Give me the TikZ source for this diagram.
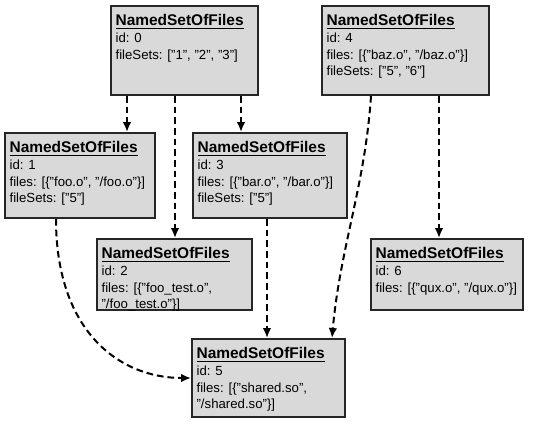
\documentclass[tikz,border=0pt]{standalone}
\usepackage{fontspec}
\setmainfont{Liberation Sans}
\usetikzlibrary{arrows.meta, calc, fit}

\newcommand{\nsftitle}{\underline{\fontsize{11.6}{14}\selectfont\textbf{NamedSetOfFiles}}\\}

\begin{document}
\begin{tikzpicture}[x=0.75pt, y=-0.75pt]
	% Setup the styles for the boxes and the dependencies
	\tikzset{set box/.style={draw=black!85, line width=1.5pt,
			fill=gray!30, inner sep=0pt},
		set text/.style={anchor=north west, align=left, inner xsep=4pt,
			inner ysep=7pt, font=\fontsize{9.9}{12.5}\selectfont},
		dep/.style={line width=1.5pt, dash pattern=on 5pt off 3pt,
			-{Latex[length=7.5pt, width=6.5pt]}}}
	
	\useasboundingbox (0,0) rectangle (539,440);
	
	% The boxes
	\node[set box, fit={(111,6) (258,95)}]   (b0) {};
	\node[set box, fit={(322,6) (489,95)}]   (b4) {};
	\node[set box, fit={(5,133) (155,218)}]  (b1) {};
	\node[set box, fit={(193,133) (347,218)}] (b3) {};
	\node[set box, fit={(97,239) (252,310)}]  (b2) {};
	\node[set box, fit={(371,239) (523,310)}] (b6) {};
	\node[set box, fit={(192,339) (345,417)}] (b5) {};
	
	% The texts
	\node[set text] (t0) at (b0.north west) {\nsftitle id: 0\\ fileSets: ["1", "2", "3"]};
	\node[set text] (t4) at (b4.north west) {\nsftitle id: 4\\ files: [\{"baz.o", "/baz.o"\}]\\ fileSets: ["5", "6"]};
	\node[set text] (t1) at (b1.north west) {\nsftitle id: 1\\ files: [\{"foo.o", "/foo.o"\}]\\ fileSets: ["5"]};
	\node[set text] (t3) at (b3.north west) {\nsftitle id: 3\\ files: [\{"bar.o", "/bar.o"\}]\\ fileSets: ["5"]};
	\node[set text] (t2) at (b2.north west) {\nsftitle id: 2\\ files: [\{"foo\_test.o",\\ "/foo\_test.o"\}]};
	\node[set text] (t6) at (b6.north west) {\nsftitle id: 6\\ files: [\{"qux.o", "/qux.o"\}]};
	\node[set text] (t5) at (b5.north west) {\nsftitle id: 5\\ files: [\{"shared.so",\\ "/shared.so"\}]};
	
	% Where the dependencies start
	\coordinate (s01) at ($(b0.south west)+(17,0)$);
	\coordinate (s02) at ($(b0.south west)+(65,0)$);
	\coordinate (s03) at ($(b0.south west)+(131,0)$);
	\coordinate (s46) at ($(b4.south west)+(118,0)$);
	\coordinate (s45) at ($(b4.south west)+(50,0)$);
	\coordinate (s35) at ($(b3.south west)+(75,0)$);
	\coordinate (s15) at ($(b1.south west)+(52,0)$);
	\coordinate (e45) at ($(b5.north west)+(141,0)$);
	
	\draw[dep] (s01) -- (s01 |- b1.north);
	\draw[dep] (s02) -- (s02 |- b2.north);
	\draw[dep] (s03) -- (s03 |- b3.north);
	\draw[dep] (s46) -- (s46 |- b6.north);
	\draw[dep] (s35) -- (s35 |- b5.north);
	\draw[dep] (s45) .. controls +(-6,90) and +(8,-90) .. (e45);
	\draw[dep] (s15) .. controls +(0,112) and +(-72,0) .. (b5.west);
	
\end{tikzpicture}
\end{document}
